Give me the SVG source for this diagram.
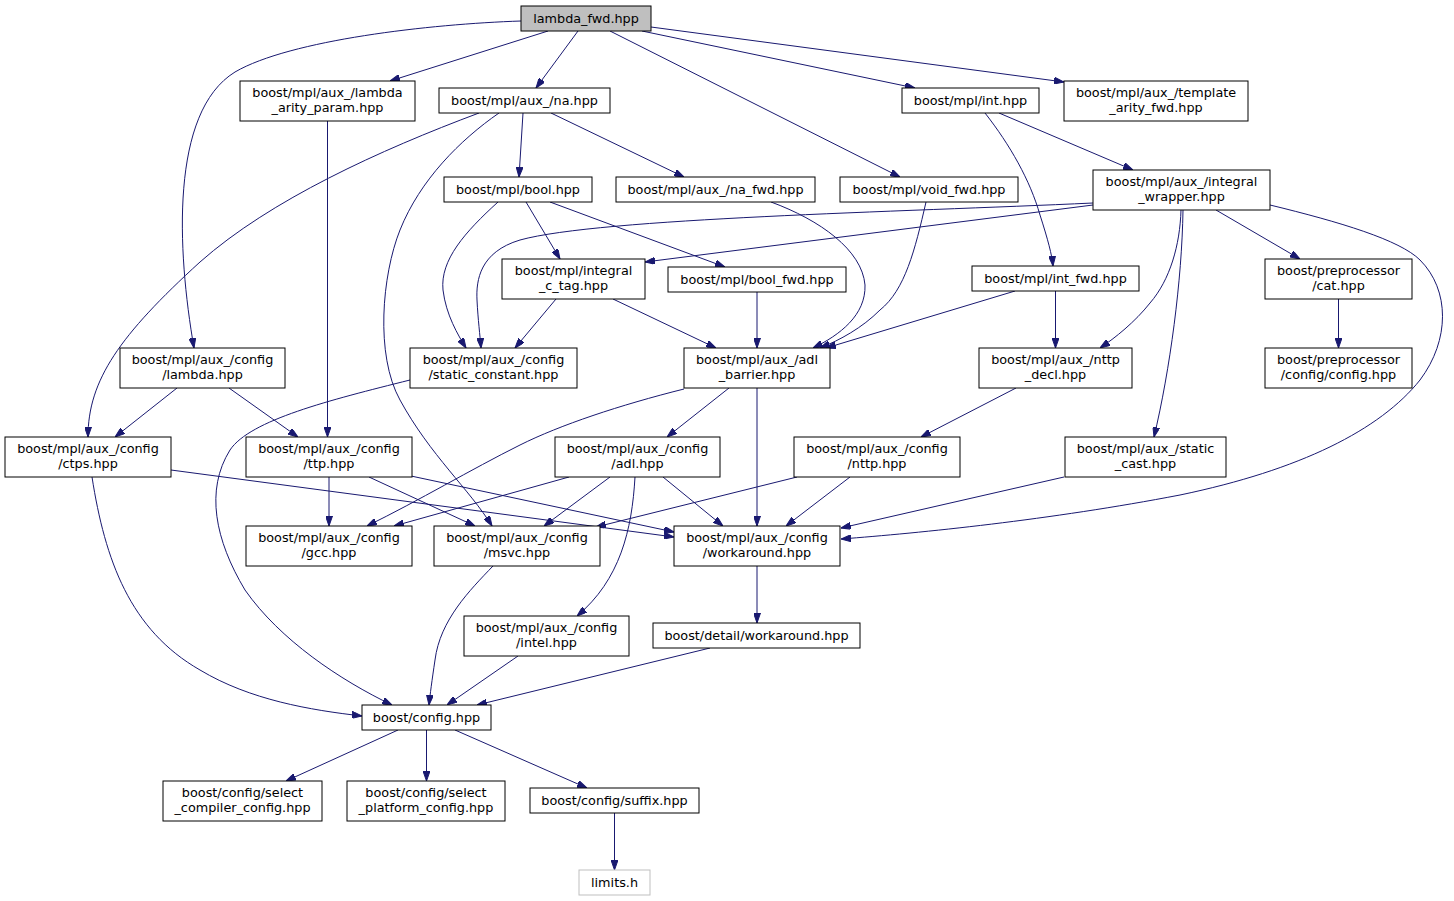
<svg xmlns="http://www.w3.org/2000/svg" width="1454" height="901" viewBox="0 0 1454 901">
<style>
.n rect{fill:#fff;stroke:#000;stroke-width:1}
.r rect{fill:#bfbfbf;stroke:#000;stroke-width:1}
.g rect{fill:#fff;stroke:#bfbfbf;stroke-width:1}
text{font-family:"DejaVu Sans","Liberation Sans",sans-serif;font-size:12.8px;text-anchor:middle;fill:#000}
.e path{fill:none;stroke:#191970;stroke-width:1;marker-end:url(#a)}
</style>
<defs>
<marker id="a" viewBox="0 0 10 7" refX="10" refY="3.5" markerWidth="10" markerHeight="7" orient="auto" markerUnits="userSpaceOnUse">
<path d="M0,0 L10,3.5 L0,7 z" fill="#191970" stroke="#191970" stroke-width="1"/>
</marker>
</defs>
<rect width="1454" height="901" fill="#fff"/>
<g class="e">
<path d="M521,21 C430,24 290,40 235,72 C170,112 177,250 194,348"/>
<path d="M548,31 L390,81"/>
<path d="M578,31 L536,88"/>
<path d="M610,31 L900,177"/>
<path d="M642,31 L915,88"/>
<path d="M651,27 L1064,82"/>
<path d="M327.5,121 L327.5,437"/>
<path d="M479,113 C380,150 270,200 200,262 C120,335 88,380 88,437"/>
<path d="M499,113 C460,140 420,180 400,230 C382,275 375,355 400,400 C430,455 470,490 492,526"/>
<path d="M523,113 L519,177"/>
<path d="M551,113 L684,177"/>
<path d="M985,113 C1010,145 1030,180 1040,215 C1048,240 1052,255 1053,266"/>
<path d="M999,113 L1133,170"/>
<path d="M498,202 C465,232 440,260 443,290 C446,315 458,335 466,348"/>
<path d="M526,202 L560,259"/>
<path d="M550,202 L725,267"/>
<path d="M771,202 C820,220 862,250 865,285 C866,315 840,335 813,348"/>
<path d="M926,202 C915,250 905,290 880,310 C862,328 840,340 820,348"/>
<path d="M1093,203 C900,212 600,218 520,240 C480,252 476,280 477,300 C478,320 480,335 481,348"/>
<path d="M1093,205 L645,262"/>
<path d="M1181,210 C1180,245 1170,280 1150,303 C1135,322 1115,338 1100,348"/>
<path d="M1183,210 C1182,280 1170,370 1154,437"/>
<path d="M1216,210 L1300,259"/>
<path d="M1270,205 C1340,222 1400,240 1420,260 C1450,290 1450,340 1420,380 C1380,430 1300,470 1180,495 C1050,520 920,533 841,539"/>
<path d="M556,299 L515,348"/>
<path d="M613,299 L716,348"/>
<path d="M757,292 L757,348"/>
<path d="M1015,291 L826,348"/>
<path d="M1055.5,291 L1055.5,348"/>
<path d="M1338.5,299 L1338.5,348"/>
<path d="M177,388 L115,437"/>
<path d="M229,388 L298,437"/>
<path d="M410,380 C330,400 250,420 230,450 C205,490 215,540 245,590 C280,640 340,680 392,705"/>
<path d="M684,389 C620,405 560,425 520,445 C470,470 420,500 367,526"/>
<path d="M729,388 L667,437"/>
<path d="M757,388 L757,526"/>
<path d="M1016,388 L921,437"/>
<path d="M92,477 C105,560 130,630 200,670 C250,700 310,710 362,716"/>
<path d="M171,470 L674,537"/>
<path d="M411,476 L674,532"/>
<path d="M329,477 L329,526"/>
<path d="M369,477 L475,526"/>
<path d="M569,477 L394,526"/>
<path d="M610,477 L544,526"/>
<path d="M635,477 C632,530 620,580 577,616"/>
<path d="M663,477 L723,526"/>
<path d="M797,477 L596,527"/>
<path d="M850,477 L786,526"/>
<path d="M1064,477 L841,528"/>
<path d="M493,566 C470,590 440,620 435,660 C432,680 430,695 429,705"/>
<path d="M757,566 L757,623"/>
<path d="M518,656 L447,705"/>
<path d="M710,648 L477,705"/>
<path d="M398,730 L286,781"/>
<path d="M426.5,730 L426.5,781"/>
<path d="M455,730 L587,788"/>
<path d="M614.5,813 L614.5,870"/>
</g>
<g id="lambda_fwd" class="r"><rect x="521" y="6" width="130" height="25"/><text x="586" y="23">lambda_fwd.hpp</text></g>
<g id="lambda_arity_param" class="n"><rect x="240" y="81" width="175" height="40"/><text x="327.5" y="97">boost/mpl/aux_/lambda</text><text x="327.5" y="112">_arity_param.hpp</text></g>
<g id="na" class="n"><rect x="439" y="88" width="171" height="25"/><text x="524.5" y="105">boost/mpl/aux_/na.hpp</text></g>
<g id="int" class="n"><rect x="902" y="88" width="137" height="25"/><text x="970.5" y="105">boost/mpl/int.hpp</text></g>
<g id="template_arity_fwd" class="n"><rect x="1064" y="81" width="184" height="40"/><text x="1156" y="97">boost/mpl/aux_/template</text><text x="1156" y="112">_arity_fwd.hpp</text></g>
<g id="bool" class="n"><rect x="444" y="177" width="148" height="25"/><text x="518" y="194">boost/mpl/bool.hpp</text></g>
<g id="na_fwd" class="n"><rect x="616" y="177" width="199" height="25"/><text x="715.5" y="194">boost/mpl/aux_/na_fwd.hpp</text></g>
<g id="void_fwd" class="n"><rect x="840" y="177" width="178" height="25"/><text x="929" y="194">boost/mpl/void_fwd.hpp</text></g>
<g id="integral_wrapper" class="n"><rect x="1093" y="170" width="177" height="40"/><text x="1181.5" y="186">boost/mpl/aux_/integral</text><text x="1181.5" y="201">_wrapper.hpp</text></g>
<g id="integral_c_tag" class="n"><rect x="502" y="259" width="143" height="40"/><text x="573.5" y="275">boost/mpl/integral</text><text x="573.5" y="290">_c_tag.hpp</text></g>
<g id="bool_fwd" class="n"><rect x="668" y="267" width="178" height="25"/><text x="757" y="284">boost/mpl/bool_fwd.hpp</text></g>
<g id="int_fwd" class="n"><rect x="972" y="266" width="167" height="25"/><text x="1055.5" y="283">boost/mpl/int_fwd.hpp</text></g>
<g id="pp_cat" class="n"><rect x="1265" y="259" width="147" height="40"/><text x="1338.5" y="275">boost/preprocessor</text><text x="1338.5" y="290">/cat.hpp</text></g>
<g id="config_lambda" class="n"><rect x="120" y="348" width="165" height="40"/><text x="202.5" y="364">boost/mpl/aux_/config</text><text x="202.5" y="379">/lambda.hpp</text></g>
<g id="static_constant" class="n"><rect x="410" y="348" width="167" height="40"/><text x="493.5" y="364">boost/mpl/aux_/config</text><text x="493.5" y="379">/static_constant.hpp</text></g>
<g id="adl_barrier" class="n"><rect x="684" y="348" width="146" height="40"/><text x="757" y="364">boost/mpl/aux_/adl</text><text x="757" y="379">_barrier.hpp</text></g>
<g id="nttp_decl" class="n"><rect x="979" y="348" width="153" height="40"/><text x="1055.5" y="364">boost/mpl/aux_/nttp</text><text x="1055.5" y="379">_decl.hpp</text></g>
<g id="pp_config" class="n"><rect x="1265" y="348" width="147" height="40"/><text x="1338.5" y="364">boost/preprocessor</text><text x="1338.5" y="379">/config/config.hpp</text></g>
<g id="ctps" class="n"><rect x="5" y="437" width="166" height="40"/><text x="88" y="453">boost/mpl/aux_/config</text><text x="88" y="468">/ctps.hpp</text></g>
<g id="ttp" class="n"><rect x="246" y="437" width="166" height="40"/><text x="329" y="453">boost/mpl/aux_/config</text><text x="329" y="468">/ttp.hpp</text></g>
<g id="adl" class="n"><rect x="555" y="437" width="165" height="40"/><text x="637.5" y="453">boost/mpl/aux_/config</text><text x="637.5" y="468">/adl.hpp</text></g>
<g id="nttp" class="n"><rect x="794" y="437" width="166" height="40"/><text x="877" y="453">boost/mpl/aux_/config</text><text x="877" y="468">/nttp.hpp</text></g>
<g id="static_cast" class="n"><rect x="1065" y="437" width="161" height="40"/><text x="1145.5" y="453">boost/mpl/aux_/static</text><text x="1145.5" y="468">_cast.hpp</text></g>
<g id="gcc" class="n"><rect x="246" y="526" width="166" height="40"/><text x="329" y="542">boost/mpl/aux_/config</text><text x="329" y="557">/gcc.hpp</text></g>
<g id="msvc" class="n"><rect x="434" y="526" width="166" height="40"/><text x="517" y="542">boost/mpl/aux_/config</text><text x="517" y="557">/msvc.hpp</text></g>
<g id="workaround" class="n"><rect x="674" y="526" width="166" height="40"/><text x="757" y="542">boost/mpl/aux_/config</text><text x="757" y="557">/workaround.hpp</text></g>
<g id="intel" class="n"><rect x="464" y="616" width="165" height="40"/><text x="546.5" y="632">boost/mpl/aux_/config</text><text x="546.5" y="647">/intel.hpp</text></g>
<g id="detail_workaround" class="n"><rect x="653" y="623" width="207" height="25"/><text x="756.5" y="640">boost/detail/workaround.hpp</text></g>
<g id="config" class="n"><rect x="362" y="705" width="129" height="25"/><text x="426.5" y="722">boost/config.hpp</text></g>
<g id="select_compiler" class="n"><rect x="163" y="781" width="159" height="40"/><text x="242.5" y="797">boost/config/select</text><text x="242.5" y="812">_compiler_config.hpp</text></g>
<g id="select_platform" class="n"><rect x="347" y="781" width="158" height="40"/><text x="426" y="797">boost/config/select</text><text x="426" y="812">_platform_config.hpp</text></g>
<g id="suffix" class="n"><rect x="530" y="788" width="169" height="25"/><text x="614.5" y="805">boost/config/suffix.hpp</text></g>
<g id="limits" class="g"><rect x="579" y="870" width="71" height="25"/><text x="614.5" y="887">limits.h</text></g>
</svg>
